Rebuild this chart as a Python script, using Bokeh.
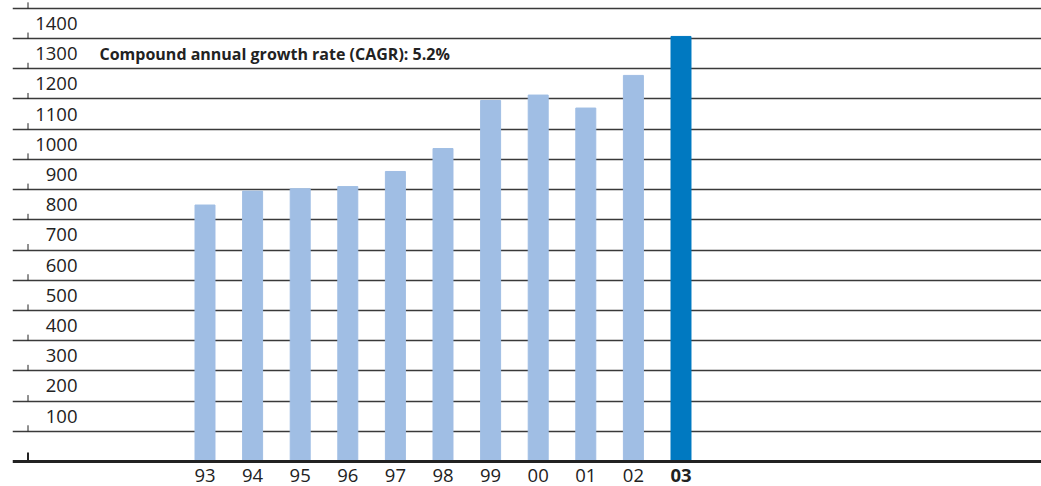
from bokeh.plotting import figure
from bokeh.models import Range1d, Grid, FixedTicker, ColumnDataSource
from bokeh.core.properties import value
from bokeh.embed import file_html
from bokeh.resources import INLINE

# ---- data ----
years = ["93", "94", "95", "96", "97", "98", "99", "00", "01", "02", "03"]
values = [849, 895, 903, 910, 960, 1036, 1195, 1213, 1170, 1278, 1407]
y_ticks = [100, 200, 300, 400, 500, 600, 700, 800, 900, 1000, 1100, 1200, 1300, 1400]
annotation = "Compound annual growth rate (CAGR): 5.2%"

LIGHT = "#a0bee4"
DARK = "#0079c1"
FONT = "Open Sans"

W, H = 1041, 486
left = 12
frame_w = W - left
step = 47.6          # px per category
first_px = 192.5     # frame px of first bar centre
ppu = 30.21 / 100    # px per value unit
zero_px = 461        # frame px (from top) of value 0

x_start = -first_px / step
x_end = (frame_w - first_px) / step
y_top = zero_px / ppu
y_bot = (zero_px - H) / ppu

p = figure(width=W, height=H, output_backend="svg", toolbar_location=None,
           x_axis_location=None, y_axis_location=None,
           x_range=Range1d(x_start, x_end), y_range=Range1d(y_bot, y_top),
           min_border_left=left, min_border_right=0, min_border_top=0, min_border_bottom=0,
           outline_line_color=None, background_fill_color="white")
for r in list(p.center):
    r.visible = False

# gridlines
grid = Grid(dimension=1, ticker=FixedTicker(ticks=y_ticks + [1500]),
            grid_line_color="#3a3a3a", grid_line_width=1.3)
p.add_layout(grid)

idx = list(range(len(years)))
colors = [LIGHT] * (len(years) - 1) + [DARK]
src = ColumnDataSource(dict(x=idx, top=values, color=colors, label=years))
p.vbar(x="x", top="top", bottom=0, width=0.42, color="color", source=src)

# baseline
p.segment(x0=x_start, x1=x_end, y0=0, y1=0, line_color="#222222", line_width=3)

# small tick marks on the left
tick_x = (15.5 - first_px) / step
tk = y_ticks + [1500]
p.segment(x0=[tick_x] * len(tk), x1=[tick_x] * len(tk),
          y0=tk, y1=[t + 6 / ppu for t in tk], line_color="#222222", line_width=1)
p.segment(x0=[tick_x], x1=[tick_x], y0=[0], y1=[9 / ppu],
          line_color="#222222", line_width=2)

# y labels
lab_x = (65 - first_px) / step
p.text(x=[lab_x] * len(y_ticks), y=[t + 50 for t in y_ticks], text=[str(t) for t in y_ticks],
       text_align="right", text_baseline="middle", text_font=value(FONT),
       text_font_size="18.5px", text_color="#222222")

# x labels
xl_y = (zero_px - 474.5) / ppu
p.text(x=idx[:-1], y=[xl_y] * (len(idx) - 1), text=years[:-1],
       text_align="center", text_baseline="middle", text_font=value(FONT),
       text_font_size="18.5px", text_color="#222222")
p.text(x=[idx[-1]], y=[xl_y], text=[years[-1]],
       text_align="center", text_baseline="middle", text_font=value(FONT),
       text_font_size="18.5px", text_font_style="bold", text_color="#222222")

# annotation
ann_x = (87 - first_px) / step
p.text(x=[ann_x], y=[1350], text=[annotation], text_align="left", text_baseline="middle",
       text_font=value(FONT), text_font_size="16px", text_font_style="bold",
       text_color="#222222")

open("out.html", "w").write(file_html(p, INLINE))
